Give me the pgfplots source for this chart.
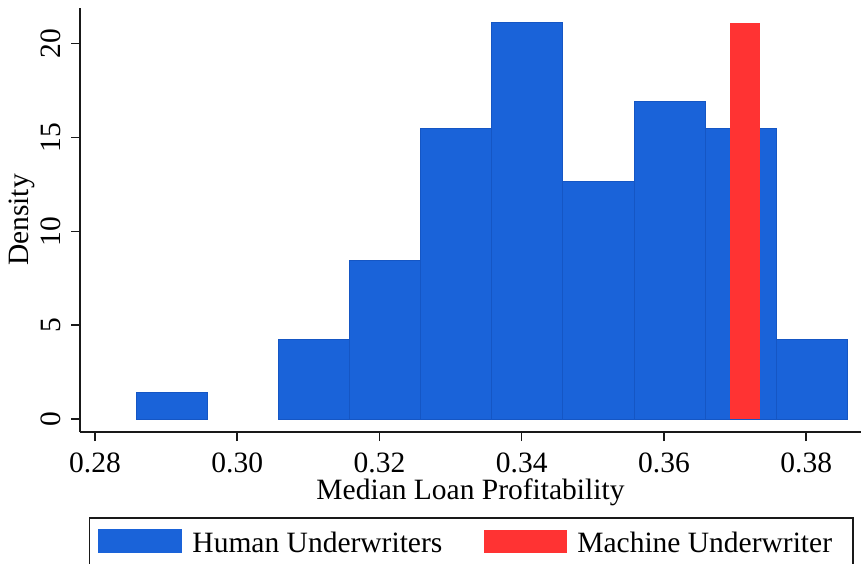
\documentclass[border=0pt]{standalone}
\usepackage{fontspec}
\setmainfont{Liberation Serif}
\usepackage{pgfplots}
\pgfplotsset{compat=1.18}
\definecolor{hblue}{RGB}{26,99,217}
\definecolor{hedge}{RGB}{21,86,196}
\definecolor{mred}{RGB}{255,51,51}
\definecolor{axgray}{RGB}{25,25,25}
\newcommand\f{\fontsize{29.5}{35}\selectfont}
\begin{document}
\begin{tikzpicture}[x=1pt,y=1pt]
\begin{axis}[
  at={(80pt,131pt)}, anchor=south west,
  scale only axis, width=781pt, height=424pt,
  xmin=0.2779, xmax=0.3877, ymin=-0.69, ymax=21.9,
  axis x line*=bottom, axis y line*=left,
  axis line style={-, line width=1.5pt, axgray},
  tick align=outside, major tick length=9pt,
  tick style={line width=1.5pt, axgray},
  xtick={0.28,0.30,0.32,0.34,0.36,0.38},
  xticklabels={0.28,0.30,0.32,0.34,0.36,0.38},
  ytick={0,5,10,15,20},
  yticklabels={0,5,10,15,20},
  xticklabel style={font=\f, anchor=base, inner sep=0pt, yshift=-31pt},
  yticklabel style={font=\f, xshift=-11pt, rotate=90, anchor=base, inner sep=0pt},
  every axis x label/.style={at={(axis description cs:0.5,0)}, anchor=base, yshift=-67pt, font=\f, inner sep=0pt},
  every axis y label/.style={at={(axis description cs:0,0.5)}, xshift=-51pt, rotate=90, anchor=base, font=\f, inner sep=0pt},
  xlabel={Median Loan Profitability},
  ylabel={Density},
  legend columns=2,
  legend style={at={(0.501,-0.2005)}, anchor=north, draw=axgray, line width=1.5pt,
    inner xsep=9pt, inner ysep=6pt, font=\f, nodes={inner sep=0pt, text height=29pt, text depth=10pt},
    /tikz/every odd column/.append style={column sep=10pt},
    /tikz/every even column/.append style={column sep=42pt}},
  legend cell align=left,
]
\addplot[ybar, bar width=0.01, bar shift=0pt, fill=hblue, draw=hedge, line width=1pt,
  legend image code/.code={\fill[hblue] (0pt,-9.3pt) rectangle (83pt,13.7pt);}]
  coordinates {(0.2908,1.408) (0.3108,4.225) (0.3208,8.451) (0.3308,15.493) (0.3408,21.127)
               (0.3508,12.676) (0.3608,16.901) (0.3708,15.493) (0.3808,4.225)};
\addlegendentry{Human Underwriters}
\addplot[ybar, bar width=0.0042, bar shift=0pt, fill=mred, draw=none,
  legend image code/.code={\fill[mred] (0pt,-9.3pt) rectangle (83pt,13.7pt);}]
  coordinates {(0.3714,21.127)};
\addlegendentry{Machine Underwriter\hspace{12pt}\null}
\end{axis}
\pgfresetboundingbox
\useasboundingbox (0,0) rectangle (861,563);
\end{tikzpicture}
\end{document}
